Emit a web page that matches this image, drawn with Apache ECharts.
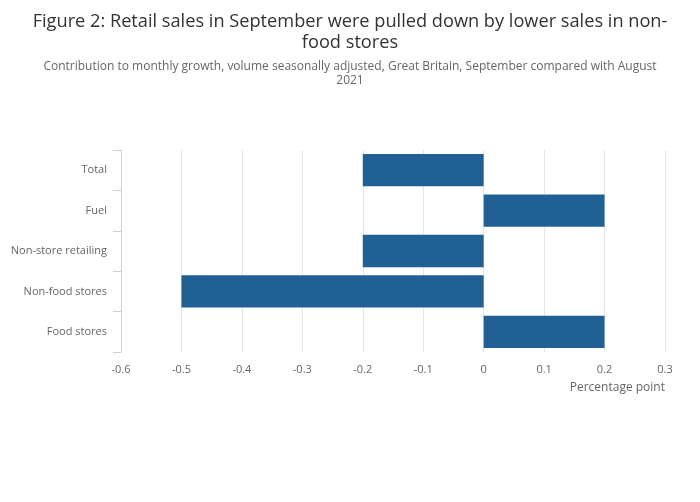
<!DOCTYPE html>
<html><head><meta charset="utf-8">
<script src="https://cdn.jsdelivr.net/npm/echarts@6/dist/echarts.min.js"></script>
<style>html,body{margin:0;padding:0;background:#fff}#c{width:700px;height:502px}</style>
</head><body><div id="c"></div>
<script>
const categories = ["Food stores", "Non-food stores", "Non-store retailing", "Fuel", "Total"];
const values = [0.2, -0.5, -0.2, 0.2, -0.2];
const xTicks = { min: -0.6, max: 0.3, interval: 0.1 };
const titleText = "Figure 2: Retail sales in September were pulled down by lower sales in non-\nfood stores";
const subtitleText = "Contribution to monthly growth, volume seasonally adjusted, Great Britain, September compared with August\n2021";
const xName = "Percentage point";

const chart = echarts.init(document.getElementById('c'), null, {renderer: 'canvas'});
const F = "'Open Sans', sans-serif";
chart.setOption({
  animation: false,
  title: [{
    text: titleText, left: 'center', top: 6,
    textStyle: {fontFamily: F, fontSize: 18.2, fontWeight: 'normal', color: '#333', lineHeight: 21, align: 'center'}
  }, {
    text: subtitleText, left: 'center', top: 55,
    textStyle: {fontFamily: F, fontSize: 12, fontWeight: 'normal', color: '#666', lineHeight: 14, align: 'center'}
  }],
  grid: {left: 121, right: 35, top: 150, bottom: 150, containLabel: false},
  xAxis: {
    type: 'value', min: xTicks.min, max: xTicks.max, interval: xTicks.interval,
    axisLine: {show: false}, axisTick: {show: false},
    splitLine: {show: true, lineStyle: {color: '#e6e6e6', width: 1}},
    axisLabel: {fontFamily: F, fontSize: 11, color: '#666', margin: 12,
      formatter: v => String(Math.round(v * 10) / 10)}
  },
  yAxis: {
    type: 'category', data: categories,
    axisLine: {show: true, onZero: false, lineStyle: {color: '#c8d2e3', width: 1}},
    axisTick: {show: true, length: 8, lineStyle: {color: '#c8d2e3'}},
    axisLabel: {fontFamily: F, fontSize: 11, color: '#666', margin: 14, padding: [3, 0, 0, 0]},
    splitLine: {show: false}
  },
  series: [{
    type: 'bar', data: values, barCategoryGap: '20%',
    itemStyle: {color: '#206095'}
  }],
  graphic: [{
    type: 'text', right: 35, top: 382,
    style: {text: xName, fontFamily: F, fontSize: 12, fill: '#666', textAlign: 'right'}
  }]
});
</script></body></html>
